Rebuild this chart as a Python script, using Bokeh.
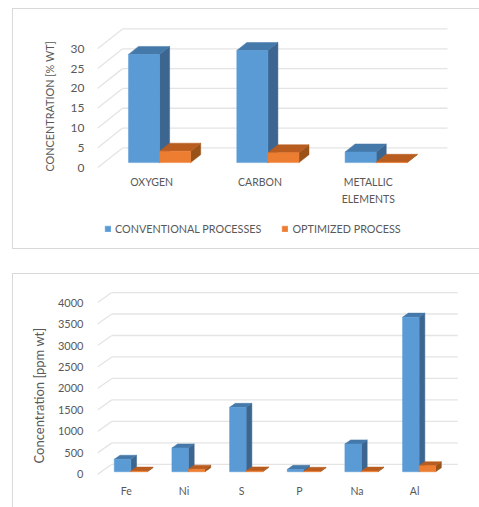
from bokeh.embed import file_html
from bokeh.layouts import column
from bokeh.models import FixedTicker, Legend, LegendItem, Range1d, Title
from bokeh.plotting import figure
from bokeh.resources import INLINE

# Bulk composition, % wt
bulk_categories = ["OXYGEN", "CARBON", "METALLIC\nELEMENTS"]
bulk_conventional = [27.3, 28.3, 2.7]
bulk_optimized = [2.9, 2.5, 0.1]
bulk_ticks = [0, 5, 10, 15, 20, 25, 30]

# Trace elements, ppm wt
trace_categories = ["Fe", "Ni", "S", "P", "Na", "Al"]
trace_conventional = [290, 555, 1500, 55, 648, 3600]
trace_optimized = [15, 60, 20, 10, 15, 140]
trace_ticks = [0, 500, 1000, 1500, 2000, 2500, 3000, 3500, 4000]

FONT = "Lato"
TEXT = "#595959"
GRID = "#e4e4e4"
FRAME = "1px solid #d9d9d9"
BLUE = ("#5b9bd5", "#3c6590", "#4479a9")
ORANGE = ("#ed7d31", "#9a5219", "#b85c1f")

# Oblique projection, as fractions of a category and of the full depth
BAR_START, BAR_WIDTH = 0.226, 0.287
DEPTH_START, DEPTH_SPAN = 0.26, 0.40


def bar_series(p, values, slot, depth_x, depth_y, colors):
    """Draw front, side and top faces of one series of oblique bars."""
    fx0, fx1, fy0, fy1 = [], [], [], []
    side_x, side_y, top_x, top_y = [], [], [], []
    dx0, dy0 = DEPTH_START * depth_x, DEPTH_START * depth_y
    dx1, dy1 = DEPTH_SPAN * depth_x, DEPTH_SPAN * depth_y
    for i, v in enumerate(values):
        x0 = i + BAR_START + slot * BAR_WIDTH + dx0
        x1 = x0 + BAR_WIDTH
        y0, y1 = dy0, dy0 + v
        fx0.append(x0); fx1.append(x1); fy0.append(y0); fy1.append(y1)
        side_x.append([x1, x1 + dx1, x1 + dx1, x1])
        side_y.append([y0, y0 + dy1, y1 + dy1, y1])
        top_x.append([x0, x1, x1 + dx1, x0 + dx1])
        top_y.append([y1, y1, y1 + dy1, y1 + dy1])
    p.patches(side_x, side_y, fill_color=colors[1], line_color=colors[1], line_width=0.5)
    p.patches(top_x, top_y, fill_color=colors[2], line_color=colors[2], line_width=0.5)
    return p.quad(left=fx0, right=fx1, bottom=fy0, top=fy1,
                  fill_color=colors[0], line_color=colors[0], line_width=0.5)


def chart(categories, conventional, optimized, ticks, label, width, height, px_left, px_right,
          px_top, px_zero, px_bottom, step, scale, depth_px, tick_size, cat_size, label_size,
          cat_gap, label_offset, label_standoff, tick_standoff, margin, border):
    frame_w = px_right - px_left
    frame_h = px_bottom - px_top
    p = figure(frame_width=frame_w, frame_height=frame_h, margin=margin, styles=border,
               output_backend="svg", toolbar_location=None,
               x_range=Range1d(0, frame_w / step),
               y_range=Range1d(-(px_bottom - px_zero) / scale, (px_zero - px_top) / scale),
               min_border_left=px_left, min_border_right=width - px_right,
               min_border_top=px_top, min_border_bottom=height - px_bottom)
    p.outline_line_color = None
    p.grid.visible = False
    p.xaxis.visible = False
    depth_x = depth_px[0] / step
    depth_y = depth_px[1] / scale
    n = len(categories)

    # Side wall and back wall rules
    p.segment(x0=[0] * len(ticks), y0=ticks, x1=[depth_x] * len(ticks),
              y1=[t + depth_y for t in ticks], line_color=GRID, line_width=1.3)
    p.segment(x0=[depth_x] * len(ticks), y0=[t + depth_y for t in ticks],
              x1=[n + depth_x] * len(ticks), y1=[t + depth_y for t in ticks],
              line_color=GRID, line_width=1.3)

    r0 = bar_series(p, conventional, 0, depth_x, depth_y, BLUE)
    r1 = bar_series(p, optimized, 1, depth_x, depth_y, ORANGE)

    # Category names sit under the floor, inside the plot area
    p.text(x=[i + 0.5 for i in range(n)], y=[-cat_gap / scale] * n, text=categories,
           text_align="center", text_baseline="top", text_font=dict(value=FONT),
           text_font_size=dict(value=cat_size), text_color=TEXT, text_line_height=1.4)

    ax = p.yaxis[0]
    ax.axis_line_color = None
    ax.major_tick_line_color = None
    ax.minor_tick_line_color = None
    ax.major_label_text_font = FONT
    ax.major_label_text_color = TEXT
    ax.ticker = FixedTicker(ticks=ticks)
    ax.major_label_text_font_size = tick_size
    ax.major_label_standoff = tick_standoff

    # Axis title, placed along the axis from its lower end
    p.add_layout(Title(text=label, align="left", offset=label_offset, standoff=label_standoff,
                       text_font=FONT, text_font_style="normal", text_font_size=label_size,
                       text_color=TEXT), "left")
    return p, r0, r1


# Positions below are measured from each chart's own left and top edge
top, top_a, top_b = chart(
    bulk_categories, bulk_conventional, bulk_optimized, bulk_ticks,
    "CONCENTRATION [% WT]", 466, 239, 84, 437, 11, 157, 237, 108, 3.93, (25, 19.7),
    "12px", "10.5px", "10.85px", 8, 77, 24, 7, (8, 0, 0, 12),
    {"border-left": FRAME, "border-top": FRAME, "border-bottom": FRAME})
legend = Legend(items=[LegendItem(label="CONVENTIONAL PROCESSES", renderers=[top_a]),
                       LegendItem(label="OPTIMIZED PROCESS", renderers=[top_b])],
                orientation="horizontal", location=(7, 13),
                border_line_color=None, background_fill_alpha=0,
                glyph_width=7, glyph_height=7, label_standoff=4, spacing=20,
                padding=0, margin=0,
                label_text_font=FONT, label_text_font_size="10.8px", label_text_color=TEXT)
top.add_layout(legend, "center")

bottom, _, _ = chart(
    trace_categories, trace_conventional, trace_optimized, trace_ticks,
    "Concentration [ppm wt]", 466, 233, 84, 444, 12, 199, 228, 57.5, 0.04275, (14.3, 10),
    "11px", "10.5px", "13px", 11, 40, 16, 8, (24, 0, 0, 12),
    {"border-left": FRAME, "border-top": FRAME})

open("out.html", "w").write(file_html(column(top, bottom, spacing=0), INLINE))
